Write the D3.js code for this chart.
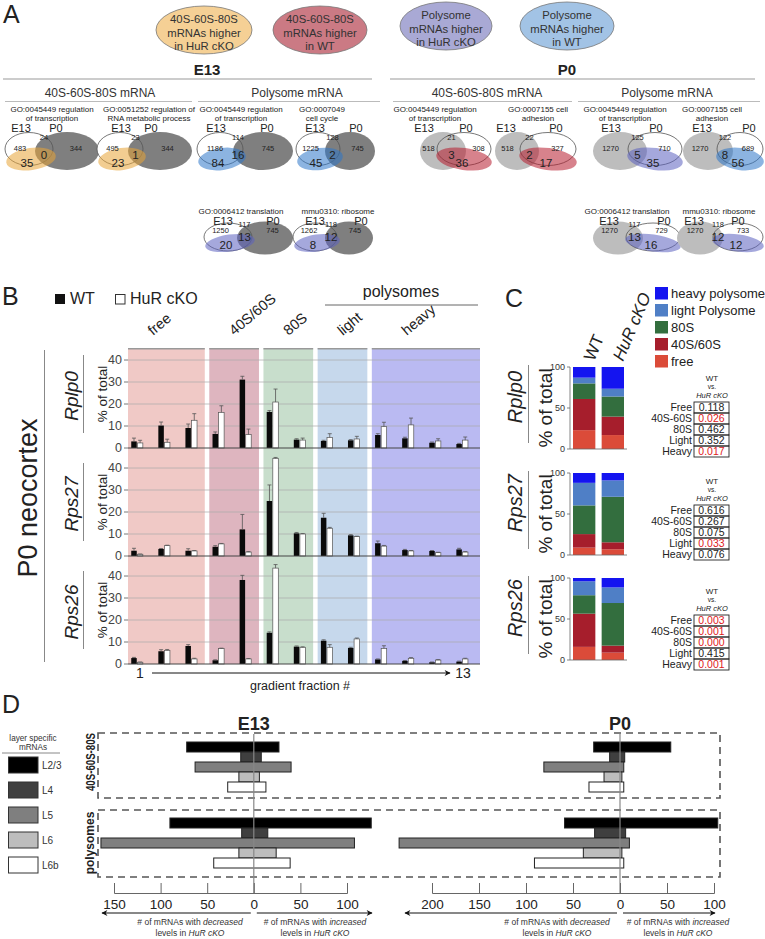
<!DOCTYPE html>
<html><head><meta charset="utf-8">
<script src="https://cdn.jsdelivr.net/npm/d3@7/dist/d3.min.js"></script>
<style>
html,body{margin:0;padding:0;background:#fff}
svg{display:block}
text{font-family:'Liberation Sans',Arial,Helvetica,sans-serif}
</style></head><body>
<svg width="765" height="939"></svg>
<script>
// ================= DATA =================
// Panel A – key
const keyLabels = [
  ["40S-60S-80S","mRNAs higher","in HuR cKO"],
  ["40S-60S-80S","mRNAs higher","in WT"],
  ["Polysome","mRNAs higher","in HuR cKO"],
  ["Polysome","mRNAs higher","in WT"]];
// Panel A – Venn diagrams
const vennTitles = [
  ["GO:0045449 regulation","of transcription"],
  ["GO:0051252 regulation of","RNA metabolic process"],
  ["GO:0045449 regulation","of transcription"],
  ["GO:0007049","cell cycle"],
  ["GO:0006412 translation"],
  ["mmu0310: ribosome"],
  ["GO:0045449 regulation","of transcription"],
  ["GO:0007155 cell","adhesion"],
  ["GO:0045449 regulation","of transcription"],
  ["GO:0007155 cell","adhesion"],
  ["GO:0006412 translation"],
  ["mmu0310: ribosome"]];
const vennCounts = [[483,24,344],[495,23,344],[1186,114,745],[1225,128,745],[1250,117,745],[1262,118,745],
                    [518,21,308],[518,22,327],[1270,125,710],[1270,122,689],[1270,117,729],[1270,118,733]];
const vennHits = [[35,0],[23,1],[84,16],[45,2],[20,13],[8,12],[3,36],[2,17],[5,35],[8,56],[13,16],[12,12]];
const vennTime = ["E13","E13","E13","E13","E13","E13","P0","P0","P0","P0","P0","P0"];
const vennKind = [0,0,3,3,2,2,1,1,2,3,2,2];

// Panel B – % of total per gradient fraction
const fractions = [1,2,3,4,5,6,7,8,9,10,11,12,13];
const fractionGroup = ["free","free","free","40S/60S","40S/60S","80S","80S","light","light","heavy","heavy","heavy","heavy"];
const bGenes = ["Rplp0","Rps27","Rps26"];
const bTicks = [0,10,20,30,40];
const rplp0WT    = [3.0,10.2,9.1,6.4,31.1,16.4,3.8,3.2,3.5,5.9,4.4,2.4,1.8];
const rplp0WTerr = [1.5,1.6,1.8,0.9,1.5,0.6,0.4,0.3,0.3,0.6,0.5,0.3,0.3];
const rplp0KO    = [2.3,2.6,12.6,16.2,6.1,20.9,3.6,4.8,4.1,9.7,10.5,3.2,3.6];
const rplp0KOerr = [1.2,1.4,3.0,3.0,2.5,5.9,0.9,1.7,1.2,2.0,3.1,1.0,1.4];
const rps27WT    = [2.4,3.2,2.4,4.2,12.1,25.0,10.3,17.4,9.4,5.8,2.7,2.3,3.0];
const rps27WTerr = [1.1,0.2,0.9,0.5,6.8,7.3,0.4,2.0,0.3,1.0,0.3,0.2,0.5];
const rps27KO    = [0.8,4.7,2.3,5.5,1.8,44.4,10.0,12.6,8.8,4.5,2.3,1.5,1.8];
const rps27KOerr = [0.1,0.2,0.2,0.2,0.2,0.4,0.2,0.4,0.2,0.3,0.2,0.2,0.2];
const rps26WT    = [2.7,5.8,8.2,1.7,38.2,14.2,7.9,10.6,7.3,2.1,1.4,0.8,1.1];
const rps26WTerr = [0.3,0.7,0.6,0.2,2.1,0.4,0.3,0.4,0.3,0.2,0.2,0.1,0.2];
const rps26KO    = [0.8,6.2,2.3,7.0,2.3,43.6,7.6,7.6,11.4,7.1,2.6,1.8,2.3];
const rps26KOerr = [0.1,0.4,0.3,0.2,0.2,1.6,0.2,1.2,0.4,1.2,0.3,0.2,0.3];

// Panel C – stacked % of total
const stackCats = ["free","40S/60S","80S","light","heavy"];
const stackLegend = ["heavy polysome","light Polysome","80S","40S/60S","free"];
const conds = ["WT","HuR cKO"];
const cRplp0WT = [23,38,19,7,13];
const cRplp0KO = [17,22.5,24.5,9.5,26.5];
const cRps27WT = [9,16.5,35,27.5,12];
const cRps27KO = [7,8.5,55.5,20,9];
const cRps26WT = [16,40.5,22.5,17,4];
const cRps26KO = [9,8.5,52,19,11.5];
const pvalRows = ["Free","40S-60S","80S","Light","Heavy"];
const pRplp0 = [0.118,0.026,0.462,0.352,0.017];
const pRps27 = [0.616,0.267,0.075,0.033,0.076];
const pRps26 = [0.003,0.001,0.000,0.415,0.001];

// Panel D – layer-specific mRNAs
const layers = ["L2/3","L4","L5","L6","L6b"];
const e13MonoDec = [72,14,63,16,28];
const e13MonoInc = [27,8,40,6,13];
const e13PolyDec = [90,13,164,16,43];
const e13PolyInc = [126,15,108,24,39];
const p0MonoDec = [28,11,81,17,33];
const p0MonoInc = [54,5,4,2,4];
const p0PolyDec = [59,27,235,39,91];
const p0PolyInc = [104,6,10,2,4];
const e13Ticks = [-150,-100,-50,0,50,100];
const p0Ticks = [-200,-150,-100,-50,0,50,100];

// ================= STYLE / LAYOUT =================
const keyColors = ["#f5d095","#cb7a84","#a9a9d5","#a2c3e5"];
const hiColors = ["#e7a437","#b61b2d","#5b60bf","#2d76c8"];
const keyGeom = [[204,30,48,24],[320,30,47,24],[446,26,46,24],[567,26,47,24]];
const rowsA = [
  {t1:112,t2:121,lab:132,wCy:149,wRy:16.5,gCy:151,gRy:19,side:150.5,ov:139.5,bigOv:159,bigSide:167,hy:159,hry:11},
  {t1:205,t2:214,lab:225,wCy:237,wRy:14,gCy:238,gRy:16.5,side:232.5,ov:227,bigOv:241,bigSide:249,hy:243,hry:8.5}];
const vennLayout = [
  {row:0,tx:52, e13x:21, p0x:56, l:[29,24], r:[67,32]},
  {row:0,tx:149,e13x:121,p0x:151,l:[120,23],r:[160,32]},
  {row:0,tx:241,e13x:216,p0x:267,l:[220,23],r:[263,30]},
  {row:0,tx:322,e13x:315,p0x:356,l:[318,22],r:[350,25]},
  {row:1,tx:241,e13x:223,p0x:273,l:[228,24],r:[265,28]},
  {row:1,tx:338,e13x:315,p0x:361,l:[315,22],r:[349,24]},
  {row:0,tx:435,e13x:424,p0x:466,l:[443,23],r:[464,27]},
  {row:0,tx:538,e13x:506,p0x:556,l:[517,22],r:[548,28]},
  {row:0,tx:625,e13x:611,p0x:656,l:[620,27],r:[655,27]},
  {row:0,tx:712,e13x:702,p0x:749,l:[708,25],r:[740,23]},
  {row:1,tx:627,e13x:609,p0x:664,l:[618,25],r:[653,27]},
  {row:1,tx:719,e13x:694,p0x:738,l:[700,23],r:[738,25]}];
const bandColors = ["#f0c9c6","#deb5bf","#c8decc","#c6d8ec","#babaf2"];
const bZero = [448,556,664];
const stackColors = ["#db4b39","#a61e2c","#336e3e","#4f7fc6","#1414f0"];
const cZero = [449,555,660];
const tTop = [402,505,615];
const layerColors = ["#000000","#3f3f3f","#7f7f7f","#bdbdbd","#ffffff"];
const NARROW = "'Liberation Sans Narrow','Arial Narrow','Liberation Sans',Arial,sans-serif";

// ================= HELPERS =================
const svg = d3.select("svg");
const defs = svg.append("defs");
defs.append("marker").attr("id","arr2").attr("viewBox","0 0 10 10").attr("refX",9).attr("refY",5)
  .attr("markerWidth",12).attr("markerHeight",6).attr("markerUnits","userSpaceOnUse").attr("orient","auto")
  .append("path").attr("d","M0,0 L10,5 L0,10 L3,5 z").attr("fill","#111");

function txt(g,x,y,s,size,o={}){
  const t=g.append("text").attr("x",x).attr("y",y).attr("font-size",size).attr("fill",o.fill||"#222").text(s);
  if(o.anchor) t.attr("text-anchor",o.anchor);
  if(o.weight) t.attr("font-weight",o.weight);
  if(o.italic) t.attr("font-style","italic");
  if(o.rotate!==undefined) t.attr("transform",`rotate(${o.rotate},${x},${y})`);
  if(o.family) t.style("font-family",o.family);
  if(o.len) t.attr("textLength",o.len).attr("lengthAdjust","spacingAndGlyphs");
  return t;
}
function ln(g,x1,y1,x2,y2,stroke,w,dash){
  const l=g.append("line").attr("x1",x1).attr("y1",y1).attr("x2",x2).attr("y2",y2).attr("stroke",stroke).attr("stroke-width",w);
  if(dash) l.attr("stroke-dasharray",dash);
  return l;
}

// ================= PANEL A =================
const gA = svg.append("g");
txt(gA,3,23,"A",25);
keyLabels.forEach((lines,i)=>{
  const [cx,cy,rx,ry]=keyGeom[i];
  gA.append("ellipse").attr("cx",cx).attr("cy",cy).attr("rx",rx).attr("ry",ry)
    .attr("fill",keyColors[i]).attr("stroke","#777").attr("stroke-width",0.8);
  lines.forEach((s,j)=>txt(gA,cx,cy-11+j*13.5+4,s,11.3,{anchor:"middle",fill:"#333"}));
});
[{t:"E13",x:207,l:[3,372]},{t:"P0",x:567,l:[390,755]}].forEach(h=>{
  txt(gA,h.x,75,h.t,15,{anchor:"middle",weight:"bold"});
  ln(gA,h.l[0],79,h.l[1],79,"#999",1);
});
[{t:"40S-60S-80S mRNA",x:100,l:[5,192]},{t:"Polysome mRNA",x:297,l:[198,380]},
 {t:"40S-60S-80S mRNA",x:487,l:[393,572]},{t:"Polysome mRNA",x:667,l:[578,760]}].forEach(h=>{
  txt(gA,h.x,97,h.t,12,{anchor:"middle",fill:"#333"});
  ln(gA,h.l[0],101.5,h.l[1],101.5,"#aaa",0.8);
});
vennTitles.forEach((title,i)=>{
  const L=vennLayout[i], R=rowsA[L.row], g=gA.append("g");
  const e13 = vennTime[i]==="E13";
  const lw={cx:L.l[0],rx:L.l[1]}, rw={cx:L.r[0],rx:L.r[1]};
  const white = e13?lw:rw, gray = e13?rw:lw;
  g.append("ellipse").attr("cx",white.cx).attr("cy",R.wCy).attr("rx",white.rx).attr("ry",R.wRy).attr("fill","#fff");
  g.append("ellipse").attr("cx",gray.cx).attr("cy",R.gCy).attr("rx",gray.rx).attr("ry",R.gRy).attr("fill",e13?"#7f7f7f":"#bdbdbd");
  g.append("ellipse").attr("cx",white.cx).attr("cy",R.wCy).attr("rx",white.rx).attr("ry",R.wRy)
    .attr("fill","none").attr("stroke","#555").attr("stroke-width",0.8);
  const hx = white.cx+(e13?2:0);
  g.append("ellipse").attr("cx",hx).attr("cy",R.hy).attr("rx",white.rx+1).attr("ry",R.hry)
    .attr("fill",hiColors[vennKind[i]]).attr("fill-opacity",0.55)
    .attr("transform",`rotate(${e13?-8:8},${hx},${R.hy})`);
  const lines = title.length===2?[[title[0],R.t1],[title[1],R.t2]]:[[title[0],R.t2]];
  lines.forEach(([s,y])=>txt(g,L.tx,y,s,8,{anchor:"middle"}));
  txt(g,L.e13x,R.lab,"E13",11,{anchor:"middle"});
  txt(g,L.p0x,R.lab,"P0",11,{anchor:"middle"});
  const lo=lw.cx-lw.rx, ro=rw.cx+rw.rx, ovL=rw.cx-rw.rx, ovR=lw.cx+lw.rx;
  const xs=[(lo+ovL)/2,(ovL+ovR)/2,(ovR+ro)/2];
  const c=vennCounts[i];
  txt(g,xs[0],R.side,c[0],7.5,{anchor:"middle"});
  txt(g,xs[1],R.ov,c[1],7.5,{anchor:"middle"});
  txt(g,xs[2],R.side,c[2],7.5,{anchor:"middle"});
  const h=vennHits[i];
  if(e13){ txt(g,lw.cx-2,R.bigSide,h[0],11.5,{anchor:"middle"}); txt(g,xs[1],R.bigOv,h[1],11.5,{anchor:"middle"}); }
  else { txt(g,xs[1],R.bigOv,h[0],11.5,{anchor:"middle"}); txt(g,rw.cx-2,R.bigSide,h[1],11.5,{anchor:"middle"}); }
});

// ================= PANEL B =================
const gB = svg.append("g");
txt(gB,2,305,"B",25);
gB.append("rect").attr("x",55).attr("y",294).attr("width",10).attr("height",10).attr("fill","#111");
txt(gB,70,304,"WT",16);
gB.append("rect").attr("x",115.5).attr("y",294.5).attr("width",9.5).attr("height",9.5).attr("fill","#fff").attr("stroke","#333");
txt(gB,130,304,"HuR cKO",16);
txt(gB,401,297,"polysomes",16,{anchor:"middle"});
ln(gB,325,305,478,305,"#666",1);

const xB = d3.scaleBand().domain(fractions).range([123.5,475.7]);
const stepB = xB.step();
const groups=[];
fractionGroup.forEach((g,i)=>{const last=groups[groups.length-1]; if(last&&last.name===g) last.to=fractions[i]; else groups.push({name:g,from:fractions[i],to:fractions[i]});});
groups.forEach((gr,i)=>{
  const x0=xB(gr.from)+4.5, x1=i===groups.length-1?480:xB(gr.to)+stepB;
  gB.append("rect").attr("x",x0).attr("y",348).attr("width",x1-x0).attr("height",316).attr("fill",bandColors[i]);
  ln(gB,x0,348.7,x1,348.7,"#999",1.5);
  txt(gB,x0+(i===4?35:25),336,gr.name,14.5,{rotate:-40});
});
const bWT=[rplp0WT,rps27WT,rps26WT], bWTe=[rplp0WTerr,rps27WTerr,rps26WTerr];
const bKO=[rplp0KO,rps27KO,rps26KO], bKOe=[rplp0KOerr,rps27KOerr,rps26KOerr];
bGenes.forEach((gene,r)=>{
  const z=bZero[r];
  const y=d3.scaleLinear().domain([0,49.1]).range([z,z-108]);
  bTicks.forEach(t=>{
    if(t>0) ln(gB,128,y(t),480,y(t),"#a9a9a9",0.7);
    ln(gB,124,y(t),128,y(t),"#555",0.8);
    txt(gB,122,y(t)+4.3,t,12.5,{anchor:"end",fill:"#444"});
  });
  const g=gB.append("g");
  const cx=f=>xB(f)+stepB/2;
  g.selectAll("rect.wt").data(fractions).join("rect").attr("class","wt")
    .attr("x",f=>cx(f)-5.8).attr("y",f=>y(bWT[r][f-1])).attr("width",5.5)
    .attr("height",f=>z-y(bWT[r][f-1])).attr("fill","#0a0a0a");
  g.selectAll("rect.ko").data(fractions).join("rect").attr("class","ko")
    .attr("x",f=>cx(f)+0.3).attr("y",f=>y(bKO[r][f-1])).attr("width",5.5)
    .attr("height",f=>z-y(bKO[r][f-1])).attr("fill","#fff").attr("stroke","#555").attr("stroke-width",0.7);
  [[bWT[r],bWTe[r],-3.05],[bKO[r],bKOe[r],3.05]].forEach(([v,e,off])=>{
    fractions.forEach(f=>{
      const xx=cx(f)+off, y0=y(v[f-1]), y1=y(v[f-1]+e[f-1]);
      ln(g,xx,y0,xx,y1,"#555",0.8);
      ln(g,xx-2,y1,xx+2,y1,"#555",0.8);
    });
  });
  ln(gB,128,z,480,z,"#444",1);
  txt(gB,78,z-52,gene,19,{anchor:"middle",italic:true,rotate:-90});
  ln(gB,83.5,z-93,83.5,z-15,"#888",1);
  txt(gB,107,z-54,"% of total",13.5,{anchor:"middle",rotate:-90});
});
txt(gB,37,498,"P0 neocortex",27,{anchor:"middle",rotate:-90});
ln(gB,44.5,350,44.5,662,"#888",1);
txt(gB,140,678,"1",14,{anchor:"middle"});
ln(gB,152,673,450,673,"#111",1).attr("marker-end","url(#arr2)");
txt(gB,463,678,"13",14,{anchor:"middle"});
txt(gB,300,690,"gradient fraction #",12.5,{anchor:"middle"});

// ================= PANEL C =================
const gC = svg.append("g");
txt(gC,505,307,"C",25);
stackLegend.forEach((s,i)=>{
  const yy=287+i*17;
  gC.append("rect").attr("x",655).attr("y",yy).attr("width",13).attr("height",12.5).attr("fill",stackColors[4-i]);
  txt(gC,671,yy+11,s,13);
});
txt(gC,594,362,"WT",17,{rotate:-67});
txt(gC,623,362,"HuR cKO",17,{rotate:-67,italic:true});
const xC=d3.scaleBand().domain(conds).range([573,624]).paddingInner(0.22);
const stackGen=d3.stack().keys(stackCats);
const cWT=[cRplp0WT,cRps27WT,cRps26WT], cKO=[cRplp0KO,cRps27KO,cRps26KO], cP=[pRplp0,pRps27,pRps26];
const fmtP=d3.format(".3f");
bGenes.forEach((gene,r)=>{
  const z=cZero[r];
  const y=d3.scaleLinear().domain([0,100]).range([z,z-82]);
  const rows=[cWT[r],cKO[r]].map((arr,k)=>{const o={cond:conds[k]}; stackCats.forEach((c,j)=>o[c]=arr[j]); return o;});
  const series=stackGen(rows);
  series.forEach((s,j)=>{
    gC.append("g").selectAll("rect").data(s).join("rect")
      .attr("x",d=>xC(d.data.cond)).attr("y",d=>y(d[1])).attr("width",xC.bandwidth())
      .attr("height",d=>y(d[0])-y(d[1])).attr("fill",stackColors[j]);
  });
  ln(gC,570,z,570,z-82,"#666",0.8);
  [0,50,100].forEach(t=>{ ln(gC,567,y(t),570,y(t),"#666",0.8); txt(gC,565,y(t)+3,t,9,{anchor:"end",fill:"#333"}); });
  ln(gC,570,z,627,z,"#666",0.8);
  txt(gC,522,z-52,gene,20,{anchor:"middle",italic:true,rotate:-90});
  ln(gC,528.5,z-84,528.5,z-6,"#888",1);
  txt(gC,552,z-41,"% of total",19,{anchor:"middle",rotate:-90});
  const tt=tTop[r];
  txt(gC,712,tt-21,"WT",8,{anchor:"middle",family:NARROW});
  txt(gC,712,tt-13.5,"vs.",6.5,{anchor:"middle",family:NARROW});
  txt(gC,712,tt-4.5,"HuR cKO",7.5,{anchor:"middle",italic:true,family:NARROW});
  pvalRows.forEach((lab,k)=>{
    const yy=tt+k*11;
    gC.append("rect").attr("x",694).attr("y",yy).attr("width",35).attr("height",11).attr("fill","none").attr("stroke","#222").attr("stroke-width",0.9);
    txt(gC,692,yy+9,lab,10.5,{anchor:"end",family:NARROW});
    const p=cP[r][k];
    txt(gC,711.5,yy+9,fmtP(p),10.5,{anchor:"middle",fill:p<0.05?"#e0201b":"#222"});
  });
});

// ================= PANEL D =================
const gD = svg.append("g");
txt(gD,2,713,"D",25);
txt(gD,33,741,"layer specific",8.2,{anchor:"middle",fill:"#333"});
txt(gD,33,750,"mRNAs",8.2,{anchor:"middle",fill:"#333"});
ln(gD,2,753,60,753,"#888",1);
layers.forEach((l,i)=>{
  const yy=757+i*25;
  gD.append("rect").attr("x",8.5).attr("y",yy).attr("width",29.5).attr("height",16).attr("fill",layerColors[i]).attr("stroke","#333").attr("stroke-width",1);
  txt(gD,42,yy+12,l,10,{fill:"#333"});
});
txt(gD,95,762,"40S-60S-80S",12,{anchor:"middle",weight:"bold",rotate:-90,len:58});
txt(gD,94,843,"polysomes",12,{anchor:"middle",weight:"bold",rotate:-90});
[[733,798],[810,877]].forEach(([y0,y1])=>{
  gD.append("rect").attr("x",98).attr("y",y0).attr("width",622).attr("height",y1-y0)
    .attr("fill","none").attr("stroke","#555").attr("stroke-width",1.6).attr("stroke-dasharray","7,5");
});
const yMono=d3.scaleBand().domain(layers).range([742,792]);
const yPoly=d3.scaleBand().domain(layers).range([818,868]);
const dPanels=[
  {name:"E13",x:d3.scaleLinear().domain([-150,100]).range([114,347]),ticks:e13Ticks,
   mono:[e13MonoDec,e13MonoInc],poly:[e13PolyDec,e13PolyInc],arrL:102,arrR:372,labL:190,labR:315},
  {name:"P0",x:d3.scaleLinear().domain([-200,100]).range([432,714]),ticks:p0Ticks,
   mono:[p0MonoDec,p0MonoInc],poly:[p0PolyDec,p0PolyInc],arrL:405,arrR:715,labL:557,labR:678}];
dPanels.forEach(P=>{
  const x=P.x, x0=x(0);
  txt(gD,x0,730,P.name,18,{anchor:"middle",weight:"bold"});
  [[P.mono,yMono],[P.poly,yPoly]].forEach(([[dec,inc],yS])=>{
    gD.append("g").selectAll("rect").data(layers).join("rect")
      .attr("x",(d,i)=>x(-dec[i])).attr("y",d=>yS(d)).attr("width",(d,i)=>x(inc[i])-x(-dec[i]))
      .attr("height",yS.bandwidth()).attr("fill",(d,i)=>layerColors[i]).attr("stroke","#222").attr("stroke-width",1);
  });
  ln(gD,x0,734,x0,893,"#888",1.2);
  const ax=gD.append("g").attr("transform","translate(0,893)")
    .call(d3.axisBottom(x).tickValues(P.ticks).tickSize(-10).tickPadding(6).tickFormat(d=>Math.abs(d)));
  ax.selectAll("path,line").attr("stroke","#666");
  ax.selectAll("text").attr("font-size",13.5).attr("fill","#222").style("font-family","'Liberation Sans',Arial,sans-serif");
  ln(gD,x0-3,913,P.arrL,913,"#111",1).attr("marker-end","url(#arr2)");
  ln(gD,x0+3,913,P.arrR,913,"#111",1).attr("marker-end","url(#arr2)");
  [[P.labL,"decreased"],[P.labR,"increased"]].forEach(([lx,w])=>{
    const t=gD.append("text").attr("x",lx).attr("y",925).attr("text-anchor","middle").attr("font-size",8.5).attr("fill","#333");
    t.append("tspan").text("# of mRNAs with ");
    t.append("tspan").attr("font-style","italic").text(w);
    const t2=gD.append("text").attr("x",lx).attr("y",936).attr("text-anchor","middle").attr("font-size",8.5).attr("fill","#333");
    t2.append("tspan").text("levels in ");
    t2.append("tspan").attr("font-style","italic").text("HuR cKO");
  });
});
</script></body></html>
